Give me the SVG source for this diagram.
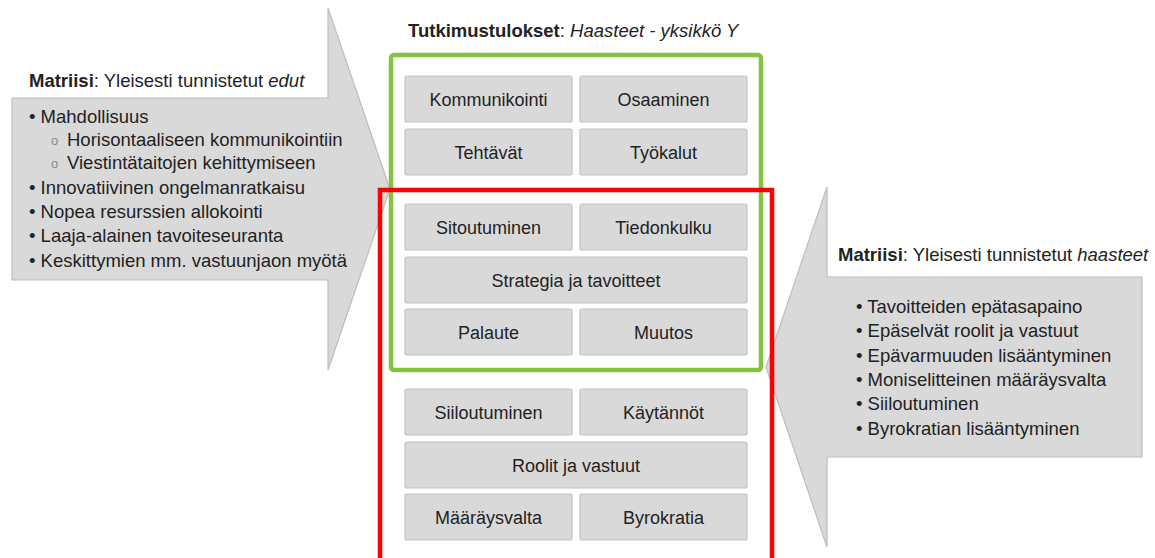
<svg xmlns="http://www.w3.org/2000/svg" width="1155" height="558" viewBox="0 0 1155 558">
<style>
text{font-family:"Liberation Sans",Arial,sans-serif;fill:#222;}
.arrow{fill:#d9d9d9;stroke:#bdbdbd;stroke-width:1.2;}
.box rect{fill:#d9d9d9;stroke:#c2c2c2;stroke-width:1.2;}
.box text{font-size:18px;text-anchor:middle;}
.lst{font-size:18.5px;}
.ttl{font-size:18.5px;}
.b{font-weight:bold;}
.i{font-style:italic;}
.sub{fill:#8a8a8a;font-size:13px;}
</style>
<rect width="1155" height="558" fill="#ffffff"/>

<g id="arrow-edut">
<polygon class="arrow" points="12,98 328,98 328,8 390,189 328,370 328,280 12,280"/>
<text class="ttl" x="29" y="87"><tspan class="b">Matriisi</tspan>: Yleisesti tunnistetut <tspan class="i">edut</tspan></text>
<text class="lst" x="29" y="123">• Mahdollisuus</text>
<text class="sub" x="51" y="145">o</text>
<text class="lst" x="67" y="146">Horisontaaliseen kommunikointiin</text>
<text class="sub" x="51" y="168">o</text>
<text class="lst" x="67" y="169">Viestintätaitojen kehittymiseen</text>
<text class="lst" x="29" y="194">• Innovatiivinen ongelmanratkaisu</text>
<text class="lst" x="29" y="218">• Nopea resurssien allokointi</text>
<text class="lst" x="29" y="242">• Laaja-alainen tavoiteseuranta</text>
<text class="lst" x="29" y="267">• Keskittymien mm. vastuunjaon myötä</text>
</g>

<g id="arrow-haasteet">
<polygon class="arrow" points="1142,277 827,277 827,187 766,367 827,547 827,457 1142,457"/>
<text class="ttl" x="838" y="261"><tspan class="b">Matriisi</tspan>: Yleisesti tunnistetut <tspan class="i">haasteet</tspan></text>
<text class="lst" x="856" y="313">• Tavoitteiden epätasapaino</text>
<text class="lst" x="856" y="337">• Epäselvät roolit ja vastuut</text>
<text class="lst" x="856" y="362">• Epävarmuuden lisääntyminen</text>
<text class="lst" x="856" y="386">• Moniselitteinen määräysvalta</text>
<text class="lst" x="856" y="410">• Siiloutuminen</text>
<text class="lst" x="856" y="435">• Byrokratian lisääntyminen</text>
</g>

<g id="title">
<text class="ttl" x="408" y="37"><tspan class="b">Tutkimustulokset</tspan>: <tspan class="i">Haasteet - yksikkö Y</tspan></text>
</g>

<g id="kommunikointi" class="box"><rect x="405" y="76" width="167" height="46" rx="2"/><text x="488.5" y="105.5">Kommunikointi</text></g>
<g id="osaaminen" class="box"><rect x="580" y="76" width="167" height="46" rx="2"/><text x="663.5" y="105.5">Osaaminen</text></g>
<g id="tehtavat" class="box"><rect x="405" y="129" width="167" height="46" rx="2"/><text x="488.5" y="158.5">Tehtävät</text></g>
<g id="tyokalut" class="box"><rect x="580" y="129" width="167" height="46" rx="2"/><text x="663.5" y="158.5">Työkalut</text></g>
<g id="sitoutuminen" class="box"><rect x="405" y="204" width="167" height="46" rx="2"/><text x="488.5" y="233.5">Sitoutuminen</text></g>
<g id="tiedonkulku" class="box"><rect x="580" y="204" width="167" height="46" rx="2"/><text x="663.5" y="233.5">Tiedonkulku</text></g>
<g id="strategia" class="box"><rect x="405" y="257" width="342" height="46" rx="2"/><text x="576" y="286.5">Strategia ja tavoitteet</text></g>
<g id="palaute" class="box"><rect x="405" y="309" width="167" height="46" rx="2"/><text x="488.5" y="338.5">Palaute</text></g>
<g id="muutos" class="box"><rect x="580" y="309" width="167" height="46" rx="2"/><text x="663.5" y="338.5">Muutos</text></g>
<g id="siiloutuminen" class="box"><rect x="405" y="389" width="167" height="46" rx="2"/><text x="488.5" y="418.5">Siiloutuminen</text></g>
<g id="kaytannot" class="box"><rect x="580" y="389" width="167" height="46" rx="2"/><text x="663.5" y="418.5">Käytännöt</text></g>
<g id="roolit" class="box"><rect x="405" y="442" width="342" height="46" rx="2"/><text x="576" y="471.5">Roolit ja vastuut</text></g>
<g id="maaraysvalta" class="box"><rect x="405" y="494" width="167" height="46" rx="2"/><text x="488.5" y="523.5">Määräysvalta</text></g>
<g id="byrokratia" class="box"><rect x="580" y="494" width="167" height="46" rx="2"/><text x="663.5" y="523.5">Byrokratia</text></g>

<g id="green-frame"><rect x="391" y="55" width="370" height="315" rx="3" fill="none" stroke="#84c341" stroke-width="4.5"/></g>
<g id="red-frame"><rect x="380" y="190" width="392" height="390" fill="none" stroke="#ff0000" stroke-width="4.5"/></g>
<g id="connectors"/>
</svg>
